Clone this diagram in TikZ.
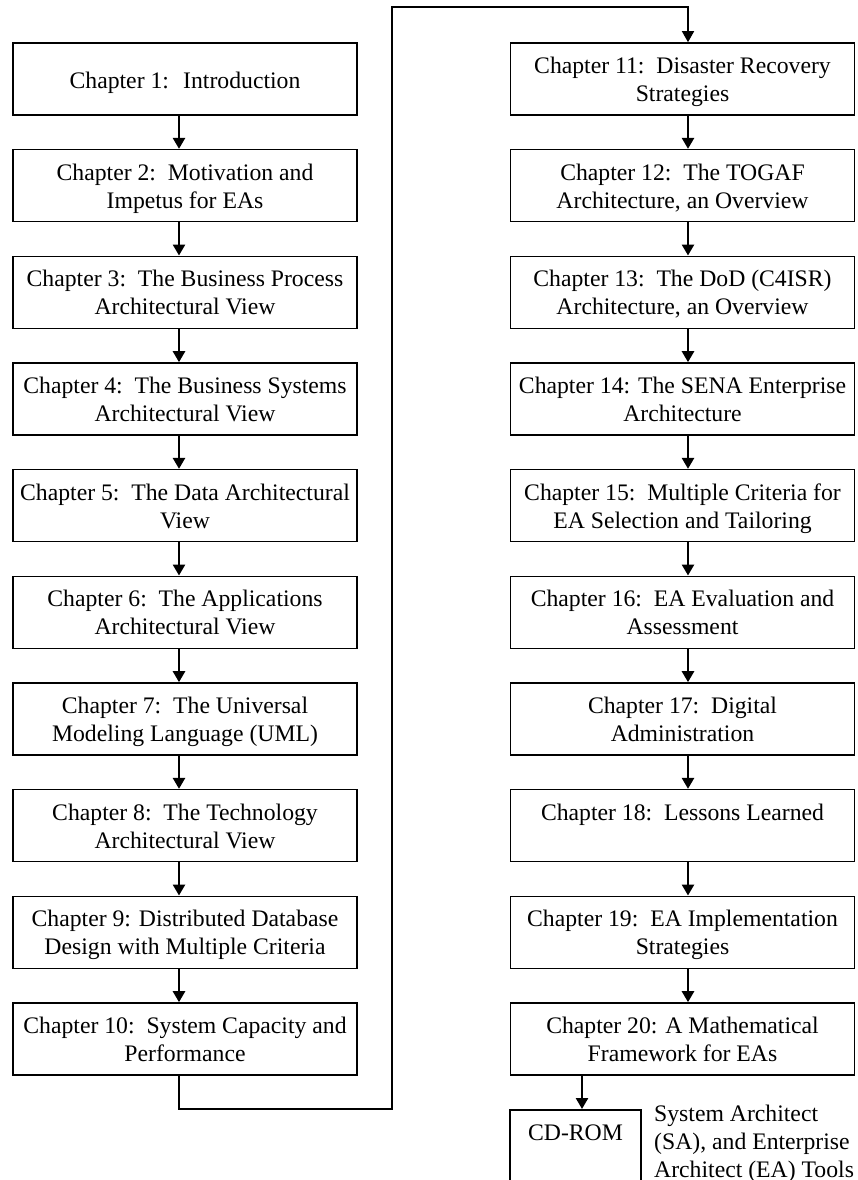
\documentclass[tikz,border=0pt]{standalone}
\usepackage{fontspec}
\setmainfont{Liberation Serif}
\usetikzlibrary{arrows.meta}
\newcommand\st{\rule[-5.5pt]{0pt}{28pt}}
\begin{document}
\begin{tikzpicture}[x=1pt,y=-1pt,
  box/.style={draw, line width=1.6pt, minimum width=344pt, minimum height=72pt,
    inner sep=0pt, align=center, font=\fontsize{23.7}{28}\selectfont},
  txt/.style={inner sep=0pt, font=\fontsize{23.7}{28}\selectfont},
  arr/.style={line width=2.5pt, -{Triangle[width=12pt,length=11pt]}},
  loopline/.style={line width=1.5pt, -{Triangle[width=12pt,length=11pt]}}]
\useasboundingbox (0,0) rectangle (858,1180);
% left column
\node[box] (c1)  at (185,79)     {Chapter 1:\hspace{0.6em}Introduction\rule[-3pt]{0pt}{28pt}};
\node[box] (c2)  at (185,185.67) {Chapter 2:\enspace Motivation and\st\\Impetus for EAs\st};
\node[box] (c3)  at (185,292.33) {Chapter 3:\enspace The Business Process\st\\Architectural View\st};
\node[box] (c4)  at (185,399)    {Chapter 4:\enspace The Business Systems\st\\Architectural View\st};
\node[box] (c5)  at (185,505.67) {Chapter 5:\enspace The Data Architectural\st\\View\st};
\node[box] (c6)  at (185,612.33) {Chapter 6:\enspace The Applications\st\\Architectural View\st};
\node[box] (c7)  at (185,719)    {Chapter 7:\enspace The Universal\st\\Modeling Language (UML)\st};
\node[box] (c8)  at (185,825.67) {Chapter 8:\enspace The Technology\st\\Architectural View\st};
\node[box] (c9)  at (185,932.33) {Chapter 9: Distributed Database\st\\Design with Multiple Criteria\st};
\node[box] (c10) at (185,1039)   {Chapter 10:\enspace System Capacity and\st\\Performance\st};
% right column
\node[box] (c11) at (682.5,79)     {Chapter 11:\enspace Disaster Recovery\st\\Strategies\st};
\node[box] (c12) at (682.5,185.67) {Chapter 12:\enspace The TOGAF\st\\Architecture, an Overview\st};
\node[box] (c13) at (682.5,292.33) {Chapter 13:\enspace The DoD (C4ISR)\st\\Architecture, an Overview\st};
\node[box] (c14) at (682.5,399)    {Chapter 14: The SENA Enterprise\st\\Architecture\st};
\node[box] (c15) at (682.5,505.67) {Chapter 15:\enspace Multiple Criteria for\st\\EA Selection and Tailoring\st};
\node[box] (c16) at (682.5,612.33) {Chapter 16:\enspace EA Evaluation and\st\\Assessment\st};
\node[box] (c17) at (682.5,719)    {Chapter 17:\enspace Digital\st\\Administration\st};
\node[box] (c18) at (682.5,825.67) {Chapter 18:\enspace Lessons Learned\st\\\st};
\node[box] (c19) at (682.5,932.33) {Chapter 19:\enspace EA Implementation\st\\Strategies\st};
\node[box] (c20) at (682.5,1039)   {Chapter 20: A Mathematical\st\\Framework for EAs\st};
% CD-ROM
\node[draw, line width=1.6pt, minimum width=131pt, minimum height=100pt, inner sep=0pt, anchor=north] (cd) at (575.5,1109) {};
\node[txt] (cdt) at (575.5,1133) {CD-ROM};
\node[txt, anchor=north west, align=left] (tools) at (654,1105) {System Architect\\(SA), and Enterprise\\Architect (EA) Tools};
% arrows
\foreach \a/\b in {c1/c2,c2/c3,c3/c4,c4/c5,c5/c6,c6/c7,c7/c8,c8/c9,c9/c10}
  \draw[arr] ([xshift=-6pt]\a.south) -- ([xshift=-6pt]\b.north);
\foreach \a/\b in {c11/c12,c12/c13,c13/c14,c14/c15,c15/c16,c16/c17,c17/c18,c18/c19,c19/c20}
  \draw[arr] ([xshift=5.5pt]\a.south) -- ([xshift=5.5pt]\b.north);
\draw[arr] ([xshift=-100.5pt]c20.south) -- ([xshift=6.5pt]cd.north);
% loop connector
\coordinate (lb) at (392,1109);
\coordinate (lt) at (392,7);
\draw[loopline] ([xshift=-6pt]c10.south) |- (lb) -- (lt) -| ([xshift=5.5pt]c11.north);
\end{tikzpicture}
\end{document}
